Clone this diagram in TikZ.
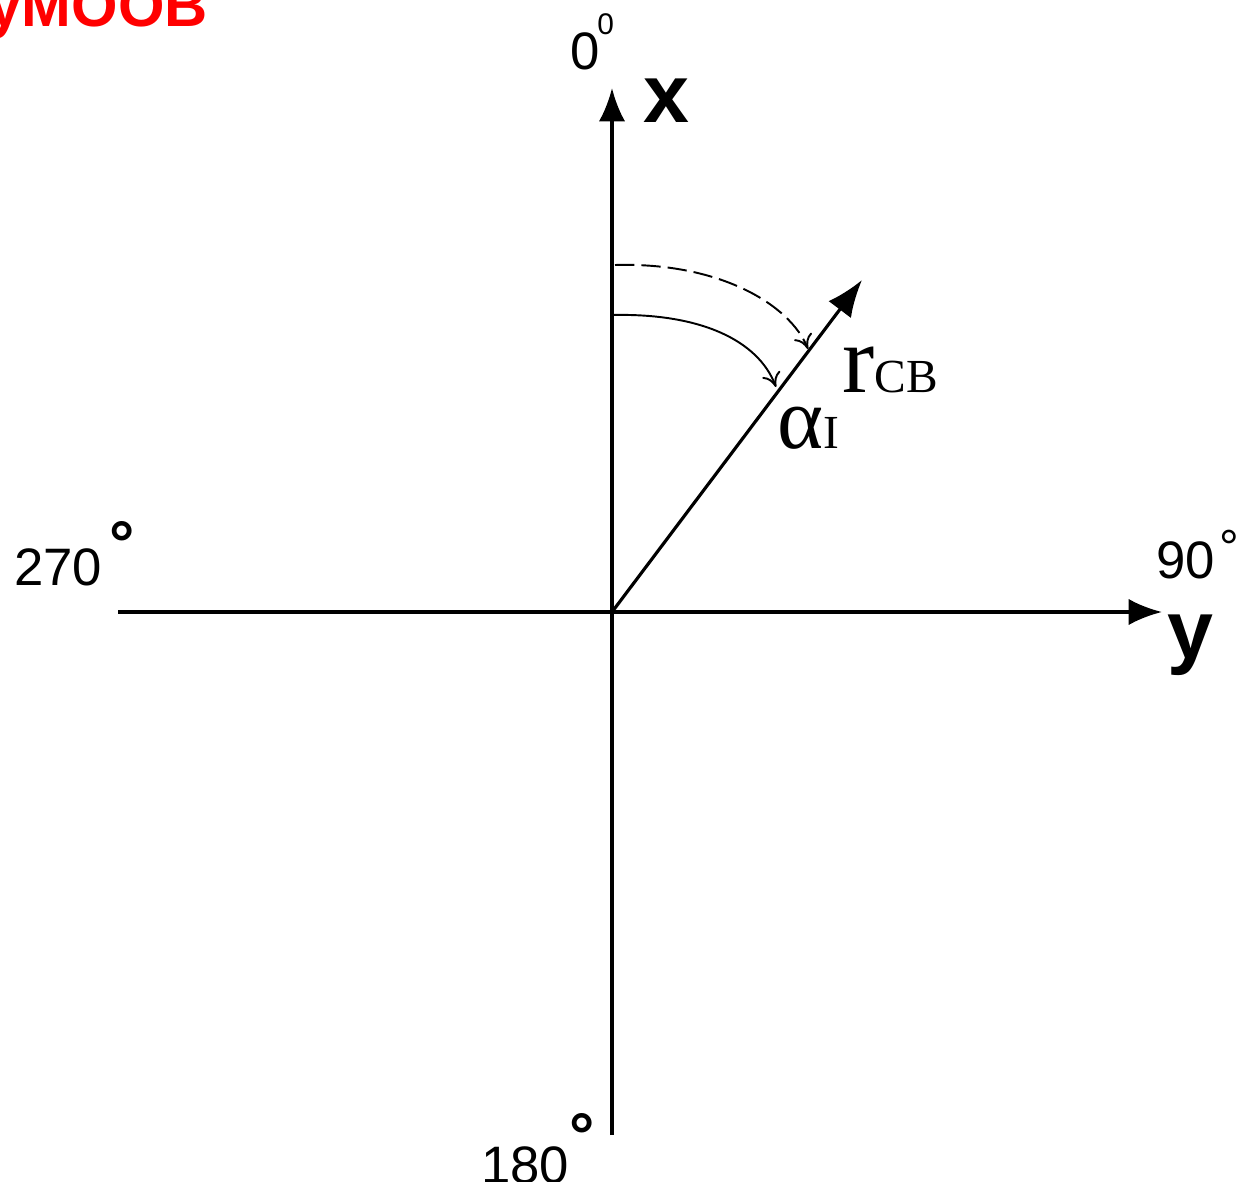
\documentclass[tikz,border=0pt]{standalone}
\usepackage{fontspec}
\setmainfont{Liberation Sans}
\newfontfamily\timesfont{Liberation Serif}
\usetikzlibrary{arrows.meta,positioning}

\begin{document}
\begin{tikzpicture}[x=0.02cm,y=-0.02cm,
  axis/.style={line width=2pt,-{Latex[length=19pt,width=15pt]}},
  ray/.style={line width=1.8pt,-{Latex[length=21pt,width=16pt]}},
  swing/.style={line width=1.1pt,-{To[length=8pt,width=11pt]}},
  num/.style={inner sep=0pt,anchor=base west,font=\fontsize{30}{30}\selectfont},
  degb/.style={inner sep=0pt,anchor=north west,font=\bfseries\fontsize{36}{36}\selectfont},
  degt/.style={inner sep=0pt,anchor=north west,font=\fontsize{28}{28}\selectfont},
  axlabel/.style={inner sep=0pt,anchor=base west,font=\bfseries\fontsize{47}{47}\selectfont},
  sym/.style={inner sep=0pt,anchor=base west}]
  \useasboundingbox (0,0) rectangle (1240,1182);
  \clip (0,0) rectangle (1240,1182);
  \coordinate (O) at (612,612);
  \coordinate (left) at (118,612);
  \coordinate (bottom) at (612,1135);
  \coordinate (xtip) at (612,88);
  \coordinate (ytip) at (1162,612);
  \coordinate (rtip) at (862,280);
  \coordinate (s1) at (612,315);
  \coordinate (e1) at (776,387);
  \coordinate (s2) at (615,265);
  \coordinate (e2) at (808,349);
  % axes and radius vector
  \draw[axis] (left) -- (ytip);
  \draw[axis] (bottom) -- (xtip);
  \draw[ray] (O) -- (rtip);
  \draw[swing] (s1) .. controls (700,313) and (758,340) .. (e1);
  \draw[swing,dash pattern=on 11pt off 4pt] (s2) .. controls (720,262) and (790,305) .. (e2);
  % labels
  \node[inner sep=0pt,anchor=base east,text=red,font=\bfseries\fontsize{34}{34}\selectfont] (title) at (208,27) {уМООВ};
  \node[num] (n0) at (570,70) {0};
  \node[inner sep=0pt,anchor=base west,font=\fontsize{17}{17}\selectfont] (n0deg) at (597,35) {0};
  \node[axlabel] (xl) at (643,123) {x};
  \node[axlabel] (yl) at (1167,658) {y};
  \node[num] (n270) at (14,585) {270};
  \node[degb] (d270) at (109,521) {°};
  \node[num] (n90) at (1156,578) {90};
  \node[degt] (d90) at (1219,530) {°};
  \node[num] (n180) at (481,1183) {180};
  \node[degb] (d180) at (569,1113) {°};
  \node[sym,font=\timesfont\fontsize{55}{55}\selectfont] (rcb) at (842,392) {r{\fontsize{27}{27}\selectfont CB}};
  \node[sym,font=\timesfont\fontsize{50}{50}\selectfont] (alpha) at (777,448) {α{\fontsize{27}{27}\selectfont I}};
\end{tikzpicture}
\end{document}
